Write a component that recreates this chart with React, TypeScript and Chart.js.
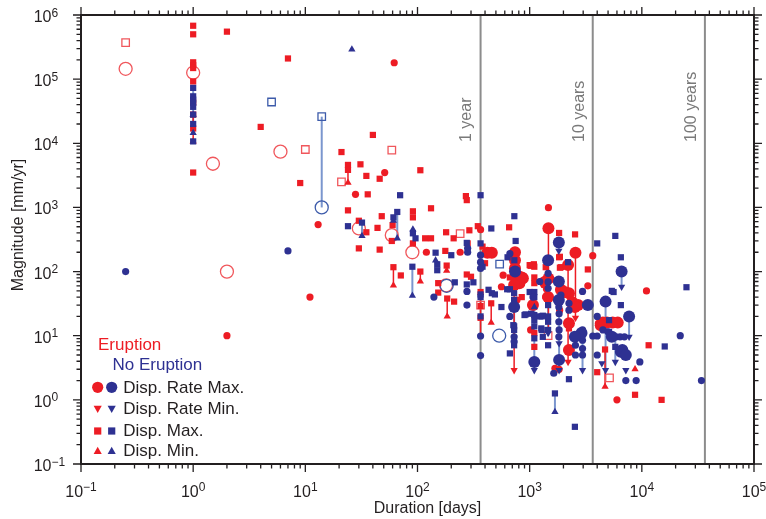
import React, { useEffect, useRef } from "react";
import { Chart, registerables } from "chart.js";

Chart.register(...registerables);

type Pt = [number, number];
type Seg = [number, number, number];

const FONT = '"Liberation Sans", Arial, Helvetica, sans-serif';
const RED = "#ED1C24";
const BLUE = "#2E3192";
const RED_OPEN = "#F0575C";
const BLUE_OPEN = "#3D5BAA";
const BLUE_LINE = "#7B96CE";
const INK = "#231F20";
const GREY = "#8C8C8C";

// axis definitions
const xDecades = [-1, 0, 1, 2, 3, 4, 5];
const yDecades = [-1, 0, 1, 2, 3, 4, 5, 6];
const timeMarks = [365, 3650, 36500];
const timeLabels = ["1 year", "10 years", "100 years"];
const xTitle = "Duration [days]";
const yTitle = "Magnitude [mm/yr]";
const legendGroups = ["Eruption", "No Eruption"];
const legendRows = ["Disp. Rate Max.", "Disp. Rate Min.", "Disp. Max.", "Disp. Min."];

// ---- Eruption (red) ----  [duration days, magnitude mm/yr]
const eruptRateMax: Pt[] = [
  [1470, 475], [2560, 197], [2200, 127], [1470, 78], [740, 200], [740, 150], [740, 113], [770, 66],
  [850, 81], [810, 83], [870, 79], [810, 66], [2240, 46], [2400, 33], [2700, 30], [4500, 16],
  [4900, 16], [5500, 16], [6100, 16], [2240, 15.6], [2240, 6], [1360, 69], [727, 62], [1460, 40],
  [1900, 52], [2050, 48], [2530, 28], [4300, 14.6], [1070, 30], [420, 197], [460, 197],
];
const eruptRateMaxSmall: Pt[] = [
  [2, 10], [11, 40], [13, 540], [62, 1.8e5], [51, 3.5e3], [28, 1.6e3], [120, 200], [240, 200],
  [365, 450], [580, 88], [560, 58], [1470, 990], [3300, 60], [3650, 177],
  [11000, 50], [1410, 54], [1390, 40], [770, 36], [1020, 12.3], [4100, 15.6], [6000, 1.0],
  [1680, 3.1], [1830, 3.0], [1850, 25],
];
const eruptRateMin: Pt[] = [[727, 2.9], [2560, 19], [2200, 3.9]];
const eruptDispMax: Pt[] = [
  [1, 6.8e5], [1, 5.0e5], [1, 1.83e5], [1, 1.65e5], [1, 1.49e5], [1, 9.2e4], [1, 4.3e4], [1, 2.8e4],
  [1, 1.7e4], [1, 3.5e3], [2, 5.5e5], [4, 1.8e4], [7, 2.1e5], [9, 2.4e3], [40, 1.35e4], [21, 7.3e3],
  [24, 4.6e3], [24, 3.85e3], [31, 4.7e3], [35, 3.1e3], [46, 2.8e3], [106, 3.8e3], [36, 1.6e3],
  [270, 1.5e3], [275, 1.3e3], [24, 900], [30, 620], [35, 410], [44, 480], [48, 730], [60, 530],
  [59, 300], [91, 870], [91, 700], [132, 970], [91, 275], [30, 230], [46, 220], [117, 330],
  [132, 330], [177, 210], [180, 410], [210, 330], [290, 440], [345, 510], [280, 275], [380, 245],
  [400, 135], [182, 124], [61, 117], [71, 87], [106, 100], [153, 66], [153, 47], [184, 38],
  [212, 34], [275, 90], [300, 83], [365, 48], [365, 29], [365, 19], [454, 32], [656, 490],
  [1830, 400], [2540, 380], [1830, 167], [3300, 108], [1900, 117], [1020, 123], [1090, 130],
  [1100, 81], [1100, 66], [1350, 62], [666, 81], [715, 81], [850, 40], [1390, 117], [1100, 119],
  [1860, 170], [1860, 115], [1000, 126], [2240, 13], [1100, 11], [1100, 6.7], [4700, 6.1],
  [11500, 7.1], [8700, 1.2], [15000, 1.0], [4000, 2.7],
];
const eruptDispMin: Pt[] = [
  [1, 1.07e4], [24, 2.44e3], [61, 61], [106, 70], [182, 103], [184, 20], [454, 16], [4700, 1.6], [8700, 3.0],
];
const eruptOpenCircle: Pt[] = [
  [0.25, 1.45e5], [1, 1.26e5], [1.5, 4.8e3], [6, 7.4e3], [2, 100], [30, 470], [59, 370], [90, 200], [180, 61],
];
const eruptOpenSquare: Pt[] = [
  [0.25, 3.7e5], [10, 8e3], [21, 2.5e3], [59, 7.8e3], [240, 390], [365, 30], [1460, 10], [5150, 2.2],
];
const eruptLinks: Seg[] = [
  [1, 1.07e4, 2.8e4], [24, 2.44e3, 4.6e3], [61, 61, 117], [106, 70, 100], [182, 103, 124],
  [184, 20, 38], [454, 16, 32], [1470, 10, 475], [2560, 19, 197], [2200, 3.9, 127],
  [727, 2.9, 62], [4700, 1.6, 6.1], [365, 10, 48],
];

// ---- No eruption (blue) ----
const quietRateMax: Pt[] = [
  [1820, 283], [6600, 100], [1460, 150], [740, 100], [1820, 70], [1820, 36], [1100, 3.9],
  [1830, 4.2], [4750, 34], [6500, 5.6], [7700, 20], [727, 28], [3300, 30], [2900, 11], [5400, 9.6],
  [2530, 9.6], [6700, 6], [7200, 5],
];
const quietRateMaxSmall: Pt[] = [
  [0.25, 100], [7, 210], [140, 40], [276, 49], [276, 30], [280, 230], [280, 200], [365, 180],
  [365, 140], [365, 112], [365, 9.9], [365, 4.9], [666, 20], [666, 190], [1230, 70], [1070, 40],
  [1900, 43], [2960, 49], [727, 9.6], [727, 8.1], [1830, 33], [1820, 28], [1830, 22], [1820, 16.5],
  [1830, 12.3], [1820, 9.6], [1460, 94], [1460, 69], [1460, 55], [2560, 7.1], [2560, 5], [2960, 8.5],
  [2960, 6.3], [2960, 5], [4000, 20], [4000, 9.9], [4000, 5], [5900, 9.6], [6400, 9.6], [7000, 9.6],
  [7200, 2.0], [8900, 2.0], [9600, 3.9], [22000, 10], [34000, 2.0], [1640, 2.6], [2960, 12.3],
  [2240, 32], [2240, 25], [3650, 9.9], [4500, 12.3], [5000, 11.5],
];
const quietRateMin: Pt[] = [
  [1820, 210], [6600, 58], [1100, 2.9], [1830, 7.6], [1830, 2.9], [2960, 2.9], [4750, 2.9],
  [5800, 3.9], [7700, 9.6], [7200, 2.9], [1460, 11], [4400, 3.7],
];
const quietDispMax: Pt[] = [
  [1, 7.3e4], [1, 5.4e4], [1, 4.8e4], [1, 4.3e4], [1, 3.7e4], [1, 2.8e4], [1, 2.0e4], [1, 1.07e4],
  [70, 1.55e3], [365, 1.55e3], [24, 510], [32, 580], [61, 700], [66, 850], [91, 395], [96, 330],
  [145, 197], [200, 180], [150, 130], [150, 105], [275, 280], [455, 470], [365, 275], [90, 119],
  [215, 68], [275, 63], [315, 68], [380, 119], [430, 52], [460, 46], [490, 44], [560, 28], [666, 53],
  [666, 5.3], [365, 44], [365, 40], [365, 20], [730, 730], [750, 300], [4000, 275], [5800, 360],
  [6500, 167], [5400, 50], [1000, 48], [630, 53], [730, 150], [2200, 140], [635, 167], [727, 46],
  [727, 36], [727, 14], [727, 12.3], [1100, 48], [1100, 40], [1100, 21], [1100, 17.5], [1100, 14],
  [1100, 9.1], [1280, 20], [1280, 12.3], [920, 21.5], [1460, 30], [1460, 20], [1460, 16.5],
  [1460, 12.3], [1460, 7.1], [2240, 2.1], [1680, 1.26], [2530, 0.38], [5100, 17.5], [5100, 11.5],
  [6500, 30], [5600, 48], [25000, 57], [16000, 6.8], [5800, 6.7], [715, 14.6], [727, 7.1], [900, 21],
  [1030, 22], [1230, 20], [1310, 20.5], [1310, 9.6], [1270, 13],
];
const quietDispMin: Pt[] = [
  [1, 2.8e4], [1, 1.45e4], [26, 2.9e5], [32, 360], [61, 620], [66, 330], [91, 455], [145, 150],
  [90, 42], [1680, 0.65], [1100, 28],
];
const quietOpenCircle: Pt[] = [[14, 1000], [182, 60], [535, 10]];
const quietOpenSquare: Pt[] = [[5, 4.4e4], [14, 2.6e4], [540, 131]];
const quietLinks: Seg[] = [
  [14, 1000, 2.6e4], [1, 1.45e4, 7.3e4], [32, 360, 580], [66, 330, 850], [90, 42, 119],
  [1680, 0.65, 1.26], [6600, 58, 100], [7700, 9.6, 20], [1820, 210, 283], [1100, 2.9, 28],
  [1830, 2.9, 40], [2960, 2.9, 12.3], [4750, 2.9, 34], [5800, 3.9, 9.6], [1460, 11, 150], [727, 8.1, 28],
];

const pts = (a: Pt[]) => a.map(([x, y]) => ({ x, y }));

function marker(data: Pt[], style: string, r: number, color: string, order: number, extra: any = {}) {
  return {
    type: "scatter",
    data: pts(data),
    pointStyle: style,
    pointRadius: r,
    backgroundColor: color,
    borderColor: color,
    borderWidth: 0,
    order,
    ...extra,
  };
}

function openMarker(data: Pt[], style: string, r: number, color: string, order: number) {
  return {
    type: "scatter",
    data: pts(data),
    pointStyle: style,
    pointRadius: r,
    backgroundColor: "rgba(0,0,0,0)",
    borderColor: color,
    borderWidth: 1.3,
    order,
  };
}

function linkSets(links: Seg[], color: string, width: number) {
  return links.map(([x, a, b]) => ({
    type: "line",
    data: [{ x, y: a }, { x, y: b }],
    borderColor: color,
    borderWidth: width,
    pointRadius: 0,
    showLine: true,
    fill: false,
    order: 50,
  }));
}

function tickList(decs: number[]) {
  const out: { v: number; major: boolean }[] = [];
  for (let i = 0; i < decs.length; i++) {
    const base = Math.pow(10, decs[i]);
    out.push({ v: base, major: true });
    if (i < decs.length - 1) for (let m = 2; m <= 9; m++) out.push({ v: m * base, major: false });
  }
  return out;
}

function shape(ctx: CanvasRenderingContext2D, kind: string, x: number, y: number, r: number, color: string) {
  ctx.fillStyle = color;
  ctx.beginPath();
  if (kind === "circle") ctx.arc(x, y, r, 0, Math.PI * 2);
  else if (kind === "square") ctx.rect(x - r, y - r, 2 * r, 2 * r);
  else if (kind === "up") {
    ctx.moveTo(x, y - r);
    ctx.lineTo(x + r * 0.95, y + r * 0.7);
    ctx.lineTo(x - r * 0.95, y + r * 0.7);
  } else {
    ctx.moveTo(x, y + r);
    ctx.lineTo(x + r * 0.95, y - r * 0.7);
    ctx.lineTo(x - r * 0.95, y - r * 0.7);
  }
  ctx.closePath();
  ctx.fill();
}

const expText = (e: number) => (e < 0 ? "\u2212" + Math.abs(e) : String(e));

const backgroundPlugin = {
  id: "refLines",
  beforeDatasetsDraw(chart: any) {
    const { ctx, chartArea: a, scales } = chart;
    ctx.save();
    ctx.strokeStyle = GREY;
    ctx.lineWidth = 2;
    timeMarks.forEach((d, i) => {
      const x = scales.x.getPixelForValue(d);
      ctx.beginPath();
      ctx.moveTo(x, a.top);
      ctx.lineTo(x, a.bottom);
      ctx.stroke();
      ctx.save();
      ctx.translate(x - 13.5, 142);
      ctx.rotate(-Math.PI / 2);
      ctx.fillStyle = "#7A7A7A";
      ctx.font = `16px ${FONT}`;
      ctx.textAlign = "left";
      ctx.textBaseline = "middle";
      ctx.fillText(timeLabels[i], 0, 0);
      ctx.restore();
    });
    ctx.restore();
  },
};

const framePlugin = {
  id: "frame",
  afterDraw(chart: any) {
    const { ctx, chartArea: a, scales } = chart;
    ctx.save();
    ctx.strokeStyle = INK;
    ctx.fillStyle = INK;
    ctx.lineWidth = 2;
    ctx.strokeRect(a.left, a.top, a.right - a.left, a.bottom - a.top);
    ctx.lineWidth = 1.3;
    const MAJ = 8;
    const MIN = 4.5;
    tickList(xDecades).forEach(({ v, major }) => {
      const x = scales.x.getPixelForValue(v);
      const L = major ? MAJ : MIN;
      ctx.beginPath();
      ctx.moveTo(x, a.bottom);
      ctx.lineTo(x, a.bottom + L);
      ctx.moveTo(x, a.top);
      ctx.lineTo(x, a.top - L);
      ctx.stroke();
    });
    tickList(yDecades).forEach(({ v, major }) => {
      const y = scales.y.getPixelForValue(v);
      const L = major ? MAJ : MIN;
      ctx.beginPath();
      ctx.moveTo(a.left, y);
      ctx.lineTo(a.left - L, y);
      ctx.moveTo(a.right, y);
      ctx.lineTo(a.right + L, y);
      ctx.stroke();
    });

    // tick labels
    ctx.textBaseline = "alphabetic";
    xDecades.forEach((e) => {
      const x = scales.x.getPixelForValue(Math.pow(10, e));
      ctx.font = `16px ${FONT}`;
      const w10 = ctx.measureText("10").width;
      ctx.font = `12px ${FONT}`;
      const we = ctx.measureText(expText(e)).width;
      const start = x - (w10 + we) / 2;
      ctx.textAlign = "left";
      ctx.font = `16px ${FONT}`;
      ctx.fillText("10", start, 497);
      ctx.font = `12px ${FONT}`;
      ctx.fillText(expText(e), start + w10, 491);
    });
    yDecades.forEach((e) => {
      const y = scales.y.getPixelForValue(Math.pow(10, e));
      ctx.font = `16px ${FONT}`;
      ctx.textAlign = "right";
      ctx.fillText("10", 51.5, y + 7);
      ctx.font = `12px ${FONT}`;
      ctx.textAlign = "left";
      ctx.fillText(expText(e), 51.5, y + 1.5);
    });

    // axis titles
    ctx.font = `16px ${FONT}`;
    ctx.textAlign = "center";
    ctx.fillText(xTitle, 427.5, 513);
    ctx.save();
    ctx.translate(18.5, 225);
    ctx.rotate(-Math.PI / 2);
    ctx.textBaseline = "middle";
    ctx.fillText(yTitle, 0, 0);
    ctx.restore();

    // legend
    ctx.textAlign = "left";
    ctx.textBaseline = "alphabetic";
    ctx.font = `17px ${FONT}`;
    ctx.fillStyle = RED;
    ctx.fillText(legendGroups[0], 98, 349.5);
    ctx.fillStyle = BLUE;
    ctx.fillText(legendGroups[1], 112.5, 369.5);
    const rowY = [387.3, 408.8, 431, 451];
    const rowBase = [392.8, 413.5, 435.5, 455.5];
    const kinds = ["circle", "down", "square", "up"];
    const sizes = [5.6, 4.3, 3.6, 4.3];
    legendRows.forEach((label, i) => {
      shape(ctx, kinds[i], 97.7, rowY[i], sizes[i], RED);
      shape(ctx, kinds[i], 111.7, rowY[i], sizes[i], BLUE);
      ctx.fillStyle = INK;
      ctx.fillText(label, 123.3, rowBase[i]);
    });
    ctx.restore();
  },
};

export default function App() {
  const ref = useRef<HTMLCanvasElement | null>(null);

  useEffect(() => {
    if (!ref.current) return;
    const datasets: any[] = [
      ...linkSets(eruptLinks, RED, 1.5),
      ...linkSets(quietLinks, BLUE_LINE, 2),
      openMarker(eruptOpenCircle, "circle", 6.5, RED_OPEN, 12),
      openMarker(eruptOpenSquare, "rect", 5.3, RED_OPEN, 12),
      openMarker(quietOpenCircle, "circle", 6.5, BLUE_OPEN, 11),
      openMarker(quietOpenSquare, "rect", 5.3, BLUE_OPEN, 11),
      marker(eruptDispMax, "rect", 4.4, RED, 9),
      marker(eruptDispMin, "triangle", 4.2, RED, 8),
      marker(eruptRateMin, "triangle", 4.2, RED, 8, { rotation: 180 }),
      marker(eruptRateMaxSmall, "circle", 3.6, RED, 7),
      marker(eruptRateMax, "circle", 6, RED, 6),
      marker(quietDispMax, "rect", 4.4, BLUE, 5),
      marker(quietDispMin, "triangle", 4.2, BLUE, 4),
      marker(quietRateMin, "triangle", 4.2, BLUE, 4, { rotation: 180 }),
      marker(quietRateMaxSmall, "circle", 3.6, BLUE, 3),
      marker(quietRateMax, "circle", 6, BLUE, 2),
    ];
    const chart = new Chart(ref.current, {
      type: "scatter",
      data: { datasets },
      options: {
        animation: false,
        responsive: false,
        maintainAspectRatio: false,
        devicePixelRatio: 1,
        events: [],
        layout: { padding: { left: 81, top: 15, right: 12, bottom: 55 } },
        plugins: { legend: { display: false }, tooltip: { enabled: false } },
        scales: {
          x: { type: "logarithmic", min: 0.1, max: 1e5, display: false },
          y: { type: "logarithmic", min: 0.1, max: 1e6, display: false },
        },
      },
      plugins: [backgroundPlugin, framePlugin],
    } as any);
    return () => chart.destroy();
  }, []);

  return (
    <div style={{ position: "fixed", left: 0, top: 0, width: 766, height: 519, background: "#fff" }}>
      <canvas ref={ref} width={766} height={519} style={{ display: "block", width: 766, height: 519 }} />
    </div>
  );
}
